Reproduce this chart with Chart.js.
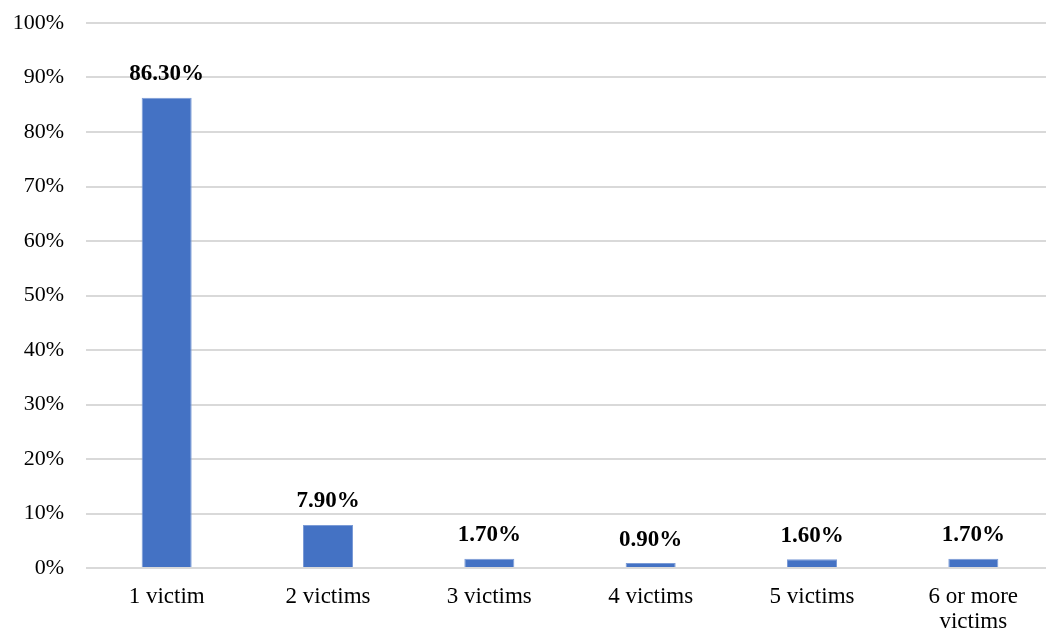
<!DOCTYPE html>
<html>
<head>
<meta charset="utf-8">
<script src="https://cdn.jsdelivr.net/npm/chart.js@4"></script>
<style>
    html, body { margin: 0; padding: 0; background: #ffffff; overflow: hidden; }
    /* plot runs slightly past the right edge of the window */
    #wrap { width: 1054px; height: 635px; position: relative; }
</style>
</head>
<body>
<div id="wrap"><canvas id="victimsChart"></canvas></div>
<script>
// Share of incidents by number of victims
const categories = ['1 victim', '2 victims', '3 victims', '4 victims', '5 victims', ['6 or more', 'victims']];
const shares = [86.3, 7.9, 1.7, 0.9, 1.6, 1.7];
const yTicks = [0, 10, 20, 30, 40, 50, 60, 70, 80, 90, 100];

const FONT = "'Liberation Serif', 'Times New Roman', serif";

// draws the value above each bar
const barValueLabels = {
    id: 'barValueLabels',
    afterDatasetsDraw(chart) {
        const ctx = chart.ctx;
        const meta = chart.getDatasetMeta(0);
        ctx.save();
        ctx.font = 'bold 23px ' + FONT;
        ctx.fillStyle = '#000000';
        ctx.textAlign = 'center';
        ctx.textBaseline = 'bottom';
        meta.data.forEach((bar, i) => {
            ctx.fillText(shares[i].toFixed(2) + '%', bar.x, bar.y - 12);
        });
        ctx.restore();
    }
};

new Chart(document.getElementById('victimsChart'), {
    type: 'bar',
    data: {
        labels: categories,
        datasets: [{
            data: shares,
            backgroundColor: '#4472c4',
            borderColor: '#7b9bd6',
            borderWidth: 1,
            barPercentage: 0.31,
            categoryPercentage: 1
        }]
    },
    options: {
        responsive: true,
        maintainAspectRatio: false,
        animation: false,
        layout: { padding: { top: 23, right: 0, bottom: 0, left: 0 } },
        plugins: {
            legend: { display: false },
            tooltip: { enabled: false }
        },
        scales: {
            y: {
                min: 0,
                max: 100,
                afterFit: s => {
                    s.width = 86;
                    s.paddingTop = 0;
                    s.paddingBottom = 0;
                },
                afterBuildTicks: s => { s.ticks = yTicks.map(v => ({ value: v })); },
                border: { display: false },
                grid: { color: '#d9d9d9', lineWidth: 2, drawTicks: false },
                ticks: {
                    padding: 22,
                    color: '#000000',
                    font: { family: FONT, size: 22 },
                    callback: v => v + '%'
                }
            },
            x: {
                afterFit: s => {
                    s.height = 67;
                    s.paddingLeft = 0;
                    s.paddingRight = 0;
                },
                border: { display: false },
                grid: { display: false, drawTicks: false },
                ticks: {
                    padding: 16,
                    color: '#000000',
                    maxRotation: 0,
                    font: { family: FONT, size: 23, lineHeight: 1.1 }
                }
            }
        }
    },
    plugins: [barValueLabels]
});
</script>
</body>
</html>
